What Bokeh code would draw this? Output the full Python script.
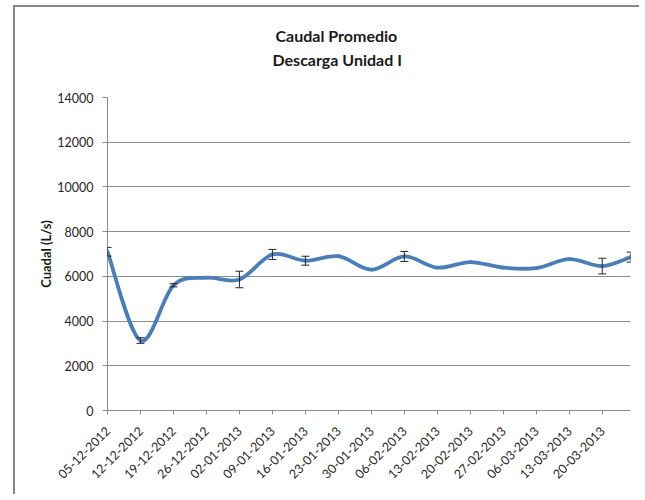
from datetime import datetime
import math

from bokeh.plotting import figure
from bokeh.models import (Range1d, FixedTicker, Whisker, ColumnDataSource, Title,
                          TeeHead)
from bokeh.embed import file_html
from bokeh.resources import INLINE

# Sampling dates (weekly, last one six days after the previous)
fechas = ["05-12-2012", "12-12-2012", "19-12-2012", "26-12-2012", "02-01-2013",
          "09-01-2013", "16-01-2013", "23-01-2013", "30-01-2013", "06-02-2013",
          "13-02-2013", "20-02-2013", "27-02-2013", "06-03-2013", "13-03-2013",
          "20-03-2013", "26-03-2013"]
# Mean discharge (L/s) and its error
caudal = [7100, 3130, 5600, 5940, 5860, 6980, 6700, 6900, 6300, 6890,
          6390, 6640, 6390, 6370, 6770, 6460, 6860]
error = [195, 125, 70, 0, 370, 225, 200, 0, 0, 225,
         0, 0, 0, 0, 0, 350, 225]
# Axis labels
etiquetas_x = fechas[:-1]
ticks_y = [0, 2000, 4000, 6000, 8000, 10000, 12000, 14000]

t0 = datetime.strptime(fechas[0], "%d-%m-%Y")
dias = [(datetime.strptime(f, "%d-%m-%Y") - t0).days for f in fechas]

FONT = "Lato"
GRIS = "#8c8c8c"
AZUL = "#4a7ebb"

p = figure(width=626, height=489, output_backend="svg", toolbar_location=None,
           x_range=Range1d(0, dias[-1]), y_range=Range1d(0, 14000),
           min_border_left=92, min_border_right=11,
           min_border_top=90, min_border_bottom=86)
p.outline_line_color = None
p.background_fill_color = "white"
p.border_fill_color = "white"
# chart area frame (gray border on top and left)
p.margin = (5, 0, 0, 13)
p.styles = {"border-top": "2px solid #868686", "border-left": "2px solid #868686"}


def titulo(texto, offset, standoff):
    return Title(text=texto, align="left", offset=offset, standoff=standoff,
                 text_font=FONT, text_font_style="bold", text_font_size="16px",
                 text_color="#1a1a1a")


# two-line title above a blank spacer
p.add_layout(titulo(" ", 0, 6), "above")
p.add_layout(titulo("Descarga Unidad I", 165, 3), "above")
p.title.text = "Caudal Promedio"
p.title.align = "left"
p.title.offset = 168
p.title.standoff = 3
p.title.text_font = FONT
p.title.text_font_style = "bold"
p.title.text_font_size = "16px"
p.title.text_color = "#1a1a1a"

# grid
p.xgrid.visible = False
p.ygrid.grid_line_color = GRIS
p.ygrid.grid_line_width = 1

# y axis
p.yaxis.ticker = FixedTicker(ticks=ticks_y)
p.yaxis.axis_line_color = GRIS
p.yaxis.major_tick_line_color = GRIS
p.yaxis.major_tick_out = 5
p.yaxis.major_tick_in = 0
p.yaxis.minor_tick_line_color = None
p.yaxis.major_label_standoff = 9
p.yaxis.major_label_text_font = FONT
p.yaxis.major_label_text_font_size = "12.5px"
p.yaxis.major_label_text_color = "#262626"
p.yaxis.axis_label = "Cuadal (L/s)"
p.yaxis.axis_label_text_font = FONT
p.yaxis.axis_label_text_font_style = "bold"
p.yaxis.axis_label_text_font_size = "13px"
p.yaxis.axis_label_text_color = "#1a1a1a"
p.yaxis.axis_label_standoff = 0

# x axis (dates as day offsets)
p.xaxis.ticker = FixedTicker(ticks=dias[:-1])
p.xaxis.major_label_overrides = {d: lab for d, lab in zip(dias, etiquetas_x)}
p.xaxis.major_label_orientation = math.pi / 4
p.xaxis.axis_line_color = GRIS
p.xaxis.major_tick_line_color = GRIS
p.xaxis.major_tick_out = 4
p.xaxis.major_tick_in = 0
p.xaxis.minor_tick_line_color = None
p.xaxis.major_label_standoff = 14
p.xaxis.major_label_text_font = FONT
p.xaxis.major_label_text_font_size = "12.5px"
p.xaxis.major_label_text_color = "#262626"

# smoothed line: cubic Bezier segments through the data points
n = len(dias)


def punto(i):
    i = min(max(i, 0), n - 1)
    return dias[i], caudal[i]


seg = {k: [] for k in ("x0", "y0", "x1", "y1", "cx0", "cy0", "cx1", "cy1")}
for i in range(n - 1):
    xa, ya = punto(i - 1)
    xb, yb = punto(i)
    xc, yc = punto(i + 1)
    xd, yd = punto(i + 2)
    seg["x0"].append(xb)
    seg["y0"].append(yb)
    seg["x1"].append(xc)
    seg["y1"].append(yc)
    seg["cx0"].append(xb + (xc - xa) / 6)
    seg["cy0"].append(yb + (yc - ya) / 6)
    seg["cx1"].append(xc - (xd - xb) / 6)
    seg["cy1"].append(yc - (yd - yb) / 6)

p.bezier(source=ColumnDataSource(seg), x0="x0", y0="y0", x1="x1", y1="y1",
         cx0="cx0", cy0="cy0", cx1="cx1", cy1="cy1",
         line_color=AZUL, line_width=3.8, line_cap="round", line_join="round")

# error bars
idx = [i for i, e in enumerate(error) if e > 0]
err_src = ColumnDataSource(dict(
    x=[dias[i] for i in idx],
    lower=[caudal[i] - error[i] for i in idx],
    upper=[caudal[i] + error[i] for i in idx],
))
p.add_layout(Whisker(source=err_src, base="x", lower="lower", upper="upper",
                     dimension="height", line_color="#262626", line_width=1,
                     level="annotation",
                     upper_head=TeeHead(size=8, line_color="#262626", line_width=1),
                     lower_head=TeeHead(size=8, line_color="#262626", line_width=1)))

open("out.html", "w").write(file_html(p, INLINE))
